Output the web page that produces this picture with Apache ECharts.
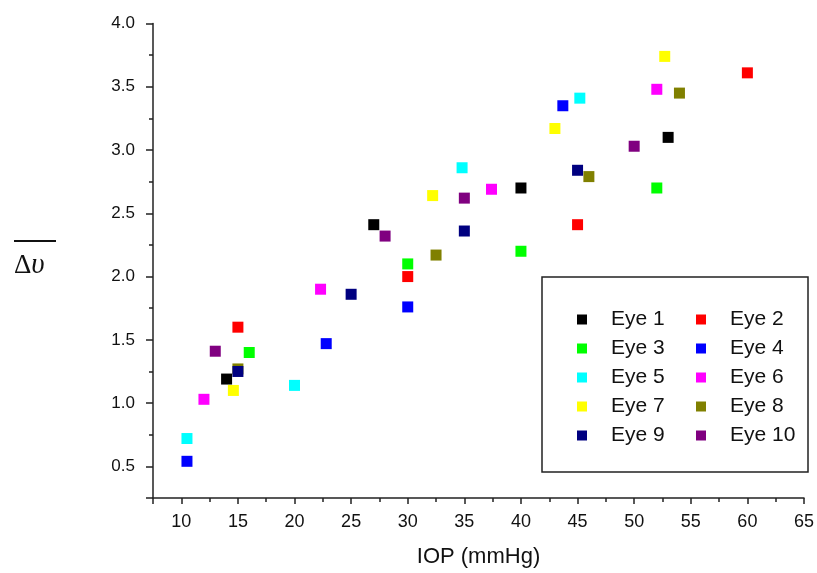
<!DOCTYPE html>
<html>
<head>
<meta charset="utf-8">
<script src="https://cdn.jsdelivr.net/npm/echarts@6/dist/echarts.min.js"></script>
<style>html,body{margin:0;padding:0;background:#fff}#c{width:817px;height:573px}</style>
</head>
<body>
<div id="c"></div>
<script>
const seriesNames = ['Eye 1','Eye 2','Eye 3','Eye 4','Eye 5','Eye 6','Eye 7','Eye 8','Eye 9','Eye 10'];
const colors = ['#000000','#ff0000','#00ff00','#0000ff','#00ffff','#ff00ff','#ffff00','#808000','#000080','#800080'];
const eye1 = [[14,1.19],[27,2.41],[40,2.70],[53,3.10]];
const eye2 = [[15,1.60],[30,2.00],[45,2.41],[60,3.61]];
const eye3 = [[16,1.40],[30,2.10],[40,2.20],[52,2.70]];
const eye4 = [[10.5,0.54],[22.8,1.47],[30,1.76],[43.7,3.35]];
const eye5 = [[10.5,0.72],[20,1.14],[34.8,2.86],[45.2,3.41]];
const eye6 = [[12,1.03],[22.3,1.90],[37.4,2.69],[52,3.48]];
const eye7 = [[14.6,1.10],[32.2,2.64],[43,3.17],[52.7,3.74]];
const eye8 = [[15,1.27],[32.5,2.17],[46,2.79],[54,3.45]];
const eye9 = [[15,1.25],[25,1.86],[35,2.36],[45,2.84]];
const eye10 = [[13,1.41],[28,2.32],[35,2.62],[50,3.03]];
const allData = [eye1,eye2,eye3,eye4,eye5,eye6,eye7,eye8,eye9,eye10];

const chart = echarts.init(document.getElementById('c'), null, {renderer:'canvas'});
const font = '"Liberation Sans", Arial, sans-serif';
const axisCol = '#222';
const legendText = {fontSize: 21, fontFamily: font, color: '#111', padding: [0,0,0,19]};
chart.setOption({
  animation: false,
  backgroundColor: '#fff',
  color: colors,
  grid: {left: 153, top: 23.5, right: 11, bottom: 73, containLabel: false},
  xAxis: {
    type: 'value', min: 7.5, max: 65, splitNumber: 12,
    name: 'IOP (mmHg)', nameLocation: 'middle', nameGap: 48,
    nameTextStyle: {fontSize: 22, fontFamily: font, color: '#111'},
    axisLine: {show: true, onZero: false, lineStyle: {color: axisCol, width: 1.5}},
    axisTick: {show: true, inside: false, length: 6, lineStyle: {color: axisCol, width: 1.5}},
    minorTick: {show: true, splitNumber: 2, length: 4, lineStyle: {color: axisCol, width: 1.5}},
    axisLabel: {show: true, margin: 15, fontSize: 18, fontFamily: font, color: '#111', showMinLabel: false},
    splitLine: {show: false}
  },
  yAxis: {
    type: 'value', min: 0.25, max: 4.0, splitNumber: 8,
    axisLine: {show: true, onZero: false, lineStyle: {color: axisCol, width: 1.5}},
    axisTick: {show: true, inside: false, length: 7, lineStyle: {color: axisCol, width: 1.5}},
    minorTick: {show: true, splitNumber: 2, length: 4, lineStyle: {color: axisCol, width: 1.5}},
    axisLabel: {show: true, margin: 18, fontSize: 17, fontFamily: font, color: '#111', showMinLabel: false,
      formatter: v => v.toFixed(1)},
    splitLine: {show: false}
  },
  legend: [
    {data: ['Eye 1','Eye 3','Eye 5','Eye 7','Eye 9'], orient: 'vertical', left: 572, top: 304,
     itemWidth: 10, itemHeight: 10, itemGap: 8, icon: 'rect', textStyle: legendText, selectedMode: false},
    {data: ['Eye 2','Eye 4','Eye 6','Eye 8','Eye 10'], orient: 'vertical', left: 691, top: 304,
     itemWidth: 10, itemHeight: 10, itemGap: 8, icon: 'rect', textStyle: legendText, selectedMode: false}
  ],
  graphic: [
    {type: 'rect', z: -1, shape: {x: 542, y: 277, width: 266, height: 195},
     style: {fill: '#fff', stroke: axisCol, lineWidth: 1.5}},
    {type: 'text', left: 14, top: 251,
     style: {text: '{d|Δ}{u|υ}', rich: {
       d: {fontFamily: '"Liberation Serif", "DejaVu Serif", serif', fontSize: 27, fill: '#111'},
       u: {fontFamily: '"Liberation Serif", "DejaVu Serif", serif', fontSize: 29, fontStyle: 'italic', fill: '#111'}}}},
    {type: 'line', shape: {x1: 14, y1: 241, x2: 56, y2: 241}, style: {stroke: '#111', lineWidth: 2}}
  ],
  series: seriesNames.map((n, i) => ({
    name: n, type: 'scatter', symbol: 'rect', symbolSize: 11,
    itemStyle: {color: colors[i], opacity: 1},
    data: allData[i]
  }))
});
</script>
</body>
</html>
